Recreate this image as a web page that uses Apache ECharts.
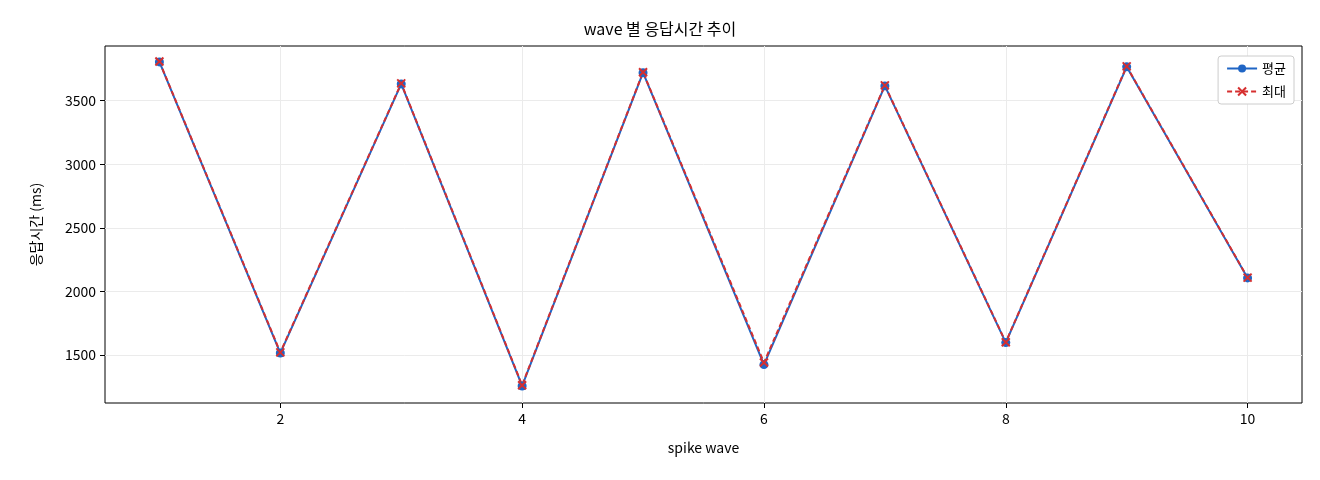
<!DOCTYPE html>
<html><head><meta charset="utf-8">
<script src="https://cdn.jsdelivr.net/npm/echarts@6/dist/echarts.min.js"></script>
<style>html,body{margin:0;padding:0;background:#fff}#c{width:1320px;height:480px}</style>
</head><body><div id="c"></div>
<script>
const waves = [1,2,3,4,5,6,7,8,9,10];
const avgMs = [3805,1515,3632,1256,3720,1424,3616,1597,3766,2106];
const maxMs = [3808,1520,3636,1262,3724,1440,3620,1600,3770,2108];
const xTicks = [2,4,6,8,10];
const yTicks = [1500,2000,2500,3000,3500];
const font = "'Noto Sans CJK KR', 'DejaVu Sans', sans-serif";
const chart = echarts.init(document.getElementById('c'));
chart.setOption({
  animation:false,
  textStyle:{fontFamily:font},
  title:{text:'wave 별 응답시간 추이',left:'center',top:16,textStyle:{fontSize:16,fontWeight:'normal',color:'#000',fontFamily:font}},
  legend:{right:26,top:56,orient:'vertical',itemGap:10,backgroundColor:'#fff',borderColor:'#ccc',borderWidth:1,borderRadius:3,padding:[6,8],
    textStyle:{fontSize:13,color:'#000'},itemWidth:30,itemHeight:10,
    data:['평균','최대']},
  grid:{left:105,right:18,top:46,bottom:77,show:true,borderColor:'#000',borderWidth:1},
  xAxis:{type:'value',min:0.55,max:10.45,name:'spike wave',nameLocation:'middle',nameGap:38,nameTextStyle:{fontSize:14,color:'#000'},
    axisLine:{show:false},
    axisTick:{show:true,customValues:xTicks,length:5,lineStyle:{color:'#000'}},
    axisLabel:{customValues:xTicks,fontSize:14,color:'#000',margin:9,formatter:v=>String(v)},
    splitLine:{show:true,lineStyle:{color:'#ebebeb'}}},
  yAxis:{type:'value',min:1122,max:3930,name:'응답시간 (ms)',nameLocation:'middle',nameGap:62,nameTextStyle:{fontSize:14,color:'#000'},
    axisLine:{show:false},
    axisTick:{show:true,customValues:yTicks,length:5,lineStyle:{color:'#000'}},
    axisLabel:{customValues:yTicks,fontSize:14,color:'#000',margin:9,formatter:v=>String(v)},
    splitLine:{show:true,lineStyle:{color:'#ebebeb'}}},
  series:[
    {name:'평균',type:'line',data:waves.map((w,i)=>[w,avgMs[i]]),symbol:'circle',symbolSize:9,
      lineStyle:{color:'#1f65c5',width:2},itemStyle:{color:'#1f65c5'}},
    {name:'최대',type:'line',data:waves.map((w,i)=>[w,maxMs[i]]),
      symbol:'path://M0,0L10,10M10,0L0,10',symbolSize:8,
      lineStyle:{color:'#d62f2f',width:2,type:[5,3]},itemStyle:{color:'none',borderColor:'#d62f2f',borderWidth:2}}
  ]
});
</script></body></html>
